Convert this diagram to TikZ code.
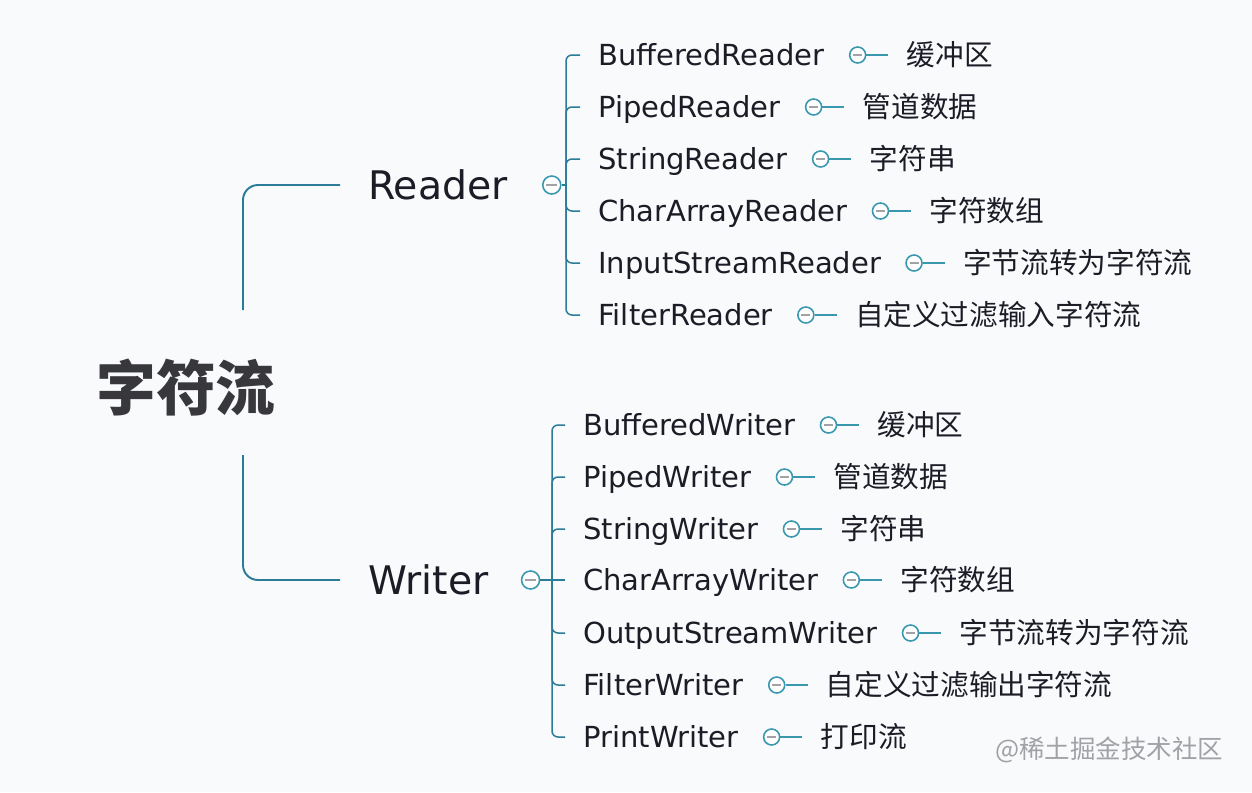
\documentclass[tikz,border=0pt]{standalone}
\usepackage{fontspec}
\setmainfont{DejaVu Sans}
\newfontfamily\cjk{Noto Sans CJK SC}
\usepackage{xcolor}
\definecolor{bgLight}{HTML}{F8FAFC}
\definecolor{lineTeal}{HTML}{2B7C98}
\definecolor{dotTeal}{HTML}{3A98AE}
\definecolor{textDark}{HTML}{1C1C26}
\definecolor{rootGray}{HTML}{38383C}
\definecolor{markGray}{HTML}{A2A2A6}
\usepackage{tikz}
\usetikzlibrary{positioning,calc}
\tikzset{
  rootText/.style={
    font=\cjk\bfseries\fontsize{34}{37}\selectfont,
    text=rootGray,
    inner sep=0pt,
    text height=25.8pt,
    text depth=0pt
 },
  mainText/.style={
    font=\fontsize{22.4}{26}\selectfont,
    text=textDark,
    inner sep=0pt,
    anchor=west,
    text height=16.3pt,
    text depth=0pt
 },
  childText/.style={
    font=\fontsize{16.5}{19}\selectfont,
    text=textDark,
    inner sep=0pt,
    anchor=west,
    text height=12pt,
    text depth=0pt
 },
  noteText/.style={
    font=\cjk\fontsize{16.3}{19}\selectfont,
    text=textDark,
    inner sep=0pt,
    text height=12.4pt,
    text depth=0pt
 },
  markText/.style={
    font=\cjk\fontsize{14.5}{17}\selectfont,
    text=markGray
 },
  foldDot/.style={
    circle,
    draw=dotTeal,
    fill=white,
    line width=0.9pt,
    inner sep=0pt,
    minimum size=0.32cm,
    path picture={
      \draw[markGray, line width=0.8pt]
        ([xshift=2pt]path picture bounding box.west) --
        ([xshift=-2pt]path picture bounding box.east);
    }
 },
  trunkLine/.style={
    draw=lineTeal,
    line width=1.1pt,
    rounded corners=0.3cm,
    shorten >=0.56cm
 },
  branchLine/.style={
    draw=lineTeal,
    line width=0.85pt,
    rounded corners=0.12cm
 },
  leafLine/.style={
    draw=dotTeal,
    line width=0.9pt,
    shorten >=0.36cm
 }
}

\begin{document}
\begin{tikzpicture}[x=0.02cm, y=-0.02cm]

            \fill[bgLight] (0,0) rectangle (1252,792);

            % Root
            \node[rootText] (root) at (186,388) {字符流};
            \coordinate (rootTop) at (243,310);
            \coordinate (rootBot) at (243,455);

            % Second level
            \node[mainText] (reader) at (368,185) {Reader};
            \node[mainText] (writer) at (368,580) {Writer};
            \node[foldDot, minimum size=0.36cm, right=0.68cm of reader] (readerDot) {};
            \node[foldDot, minimum size=0.36cm, right=0.64cm of writer] (writerDot) {};
            \coordinate (readerBus) at (566,185);
            \coordinate (writerBus) at (552,580);

            % Reader children
            \node[childText] (rBuffered) at (598,55) {BufferedReader};
            \node[childText] (rPiped) at (598,107) {PipedReader};
            \node[childText] (rString) at (598,159) {StringReader};
            \node[childText] (rCharArray) at (598,211) {CharArrayReader};
            \node[childText] (rInput) at (598,263) {InputStreamReader};
            \node[childText] (rFilter) at (598,315) {FilterReader};

            \node[foldDot, right=0.48cm of rBuffered] (rBufferedDot) {};
            \node[foldDot, right=0.48cm of rPiped] (rPipedDot) {};
            \node[foldDot, right=0.48cm of rString] (rStringDot) {};
            \node[foldDot, right=0.48cm of rCharArray] (rCharArrayDot) {};
            \node[foldDot, right=0.48cm of rInput] (rInputDot) {};
            \node[foldDot, right=0.48cm of rFilter] (rFilterDot) {};

            \node[noteText, right=0.8cm of rBufferedDot] (rBufferedNote) {缓冲区};
            \node[noteText, right=0.8cm of rPipedDot] (rPipedNote) {管道数据};
            \node[noteText, right=0.8cm of rStringDot] (rStringNote) {字符串};
            \node[noteText, right=0.8cm of rCharArrayDot] (rCharArrayNote) {字符数组};
            \node[noteText, right=0.8cm of rInputDot] (rInputNote) {字节流转为字符流};
            \node[noteText, right=0.8cm of rFilterDot] (rFilterNote) {自定义过滤输入字符流};

            % Writer children
            \node[childText] (wBuffered) at (583,425) {BufferedWriter};
            \node[childText] (wPiped) at (583,477) {PipedWriter};
            \node[childText] (wString) at (583,529) {StringWriter};
            \node[childText] (wCharArray) at (583,580) {CharArrayWriter};
            \node[childText] (wOutput) at (583,633) {OutputStreamWriter};
            \node[childText] (wFilter) at (583,685) {FilterWriter};
            \node[childText] (wPrint) at (583,737) {PrintWriter};

            \node[foldDot, right=0.48cm of wBuffered] (wBufferedDot) {};
            \node[foldDot, right=0.48cm of wPiped] (wPipedDot) {};
            \node[foldDot, right=0.48cm of wString] (wStringDot) {};
            \node[foldDot, right=0.48cm of wCharArray] (wCharArrayDot) {};
            \node[foldDot, right=0.48cm of wOutput] (wOutputDot) {};
            \node[foldDot, right=0.48cm of wFilter] (wFilterDot) {};
            \node[foldDot, right=0.48cm of wPrint] (wPrintDot) {};

            \node[noteText, right=0.8cm of wBufferedDot] (wBufferedNote) {缓冲区};
            \node[noteText, right=0.8cm of wPipedDot] (wPipedNote) {管道数据};
            \node[noteText, right=0.8cm of wStringDot] (wStringNote) {字符串};
            \node[noteText, right=0.8cm of wCharArrayDot] (wCharArrayNote) {字符数组};
            \node[noteText, right=0.8cm of wOutputDot] (wOutputNote) {字节流转为字符流};
            \node[noteText, right=0.8cm of wFilterDot] (wFilterNote) {自定义过滤输出字符流};
            \node[noteText, right=0.8cm of wPrintDot] (wPrintNote) {打印流};

            % Watermark
            \node[markText] (mark) at (1109,750) {@稀土掘金技术社区};

            % Root to second level
            \draw[trunkLine] (rootTop) |- (reader);
            \draw[trunkLine] (rootBot) |- (writer);

            % Reader brackets
            \draw[branchLine] (readerDot) -- (readerBus);
            \draw[branchLine, shorten >=0.36cm] (readerBus) |- (rBuffered.west);
            \draw[branchLine, shorten >=0.36cm] (readerBus) |- (rPiped.west);
            \draw[branchLine, shorten >=0.36cm] (readerBus) |- (rString.west);
            \draw[branchLine, shorten >=0.36cm] (readerBus) |- (rCharArray.west);
            \draw[branchLine, shorten >=0.36cm] (readerBus) |- (rInput.west);
            \draw[branchLine, shorten >=0.36cm] (readerBus) |- (rFilter.west);

            % Writer brackets
            \draw[branchLine] (writerDot) -- (writerBus);
            \draw[branchLine, shorten >=0.36cm] (writerBus) |- (wBuffered.west);
            \draw[branchLine, shorten >=0.36cm] (writerBus) |- (wPiped.west);
            \draw[branchLine, shorten >=0.36cm] (writerBus) |- (wString.west);
            \draw[branchLine, shorten >=0.36cm] (writerBus) -- (wCharArray.west);
            \draw[branchLine, shorten >=0.36cm] (writerBus) |- (wOutput.west);
            \draw[branchLine, shorten >=0.36cm] (writerBus) |- (wFilter.west);
            \draw[branchLine, shorten >=0.36cm] (writerBus) |- (wPrint.west);

            % Dots to notes
            \draw[leafLine] (rBufferedDot) -- (rBufferedNote);
            \draw[leafLine] (rPipedDot) -- (rPipedNote);
            \draw[leafLine] (rStringDot) -- (rStringNote);
            \draw[leafLine] (rCharArrayDot) -- (rCharArrayNote);
            \draw[leafLine] (rInputDot) -- (rInputNote);
            \draw[leafLine] (rFilterDot) -- (rFilterNote);
            \draw[leafLine] (wBufferedDot) -- (wBufferedNote);
            \draw[leafLine] (wPipedDot) -- (wPipedNote);
            \draw[leafLine] (wStringDot) -- (wStringNote);
            \draw[leafLine] (wCharArrayDot) -- (wCharArrayNote);
            \draw[leafLine] (wOutputDot) -- (wOutputNote);
            \draw[leafLine] (wFilterDot) -- (wFilterNote);
            \draw[leafLine] (wPrintDot) -- (wPrintNote);

        \end{tikzpicture}
\end{document}
